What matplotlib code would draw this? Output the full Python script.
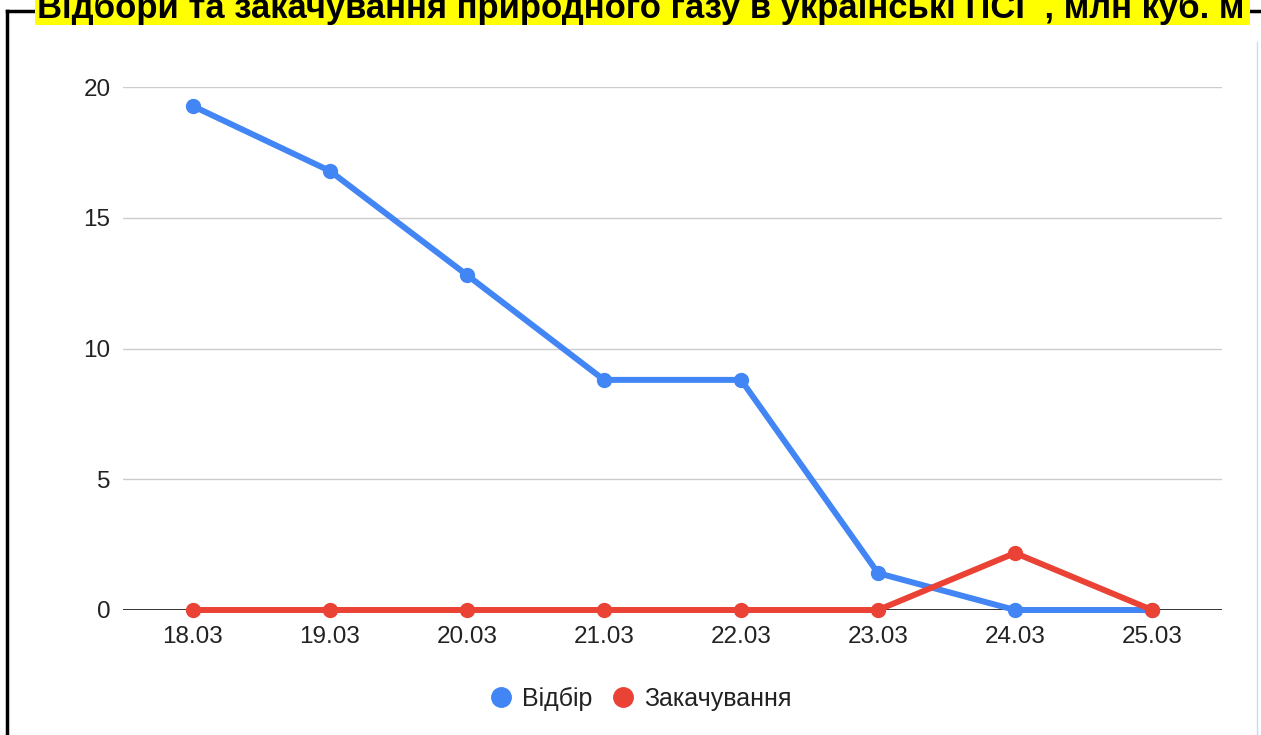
import matplotlib
matplotlib.use("Agg")
import matplotlib.pyplot as plt
from matplotlib.lines import Line2D
from matplotlib.patches import Rectangle

dates = ["18.03", "19.03", "20.03", "21.03", "22.03", "23.03", "24.03", "25.03"]
vidbir = [19.27, 16.79, 12.81, 8.80, 8.80, 1.41, 0.0, 0.0]
zakachuvannia = [0.0, 0.0, 0.0, 0.0, 0.0, 0.0, 2.18, 0.0]
yticks = [0, 5, 10, 15, 20]
title = "Відбори та закачування природного газу в українські ПСГ , млн куб. м"
series_names = ["Відбір", "Закачування"]

BLUE = "#4285F4"
RED = "#EA4335"
W, H = 1261, 735

plt.rcParams['font.family'] = ['Liberation Sans', 'DejaVu Sans']
fig = plt.figure(figsize=(W / 100, H / 100), dpi=100)
fig.patch.set_facecolor("white")

ax = fig.add_axes([123 / W, 1 - 610 / H, (1222 - 123) / W, (610 - 87) / H])
x = list(range(len(dates)))
ax.plot(x, vidbir, color=BLUE, lw=4.3, marker='o', ms=10, zorder=3, clip_on=False,
        solid_joinstyle='round', solid_capstyle='round')
ax.plot(x, zakachuvannia, color=RED, lw=4.3, marker='o', ms=10, zorder=4, clip_on=False,
        solid_joinstyle='round', solid_capstyle='round')

ax.set_xlim(-0.51, len(dates) - 1 + 0.51)
ax.set_ylim(0, 20)
ax.set_yticks(yticks)
ax.set_xticks(x)
ax.set_xticklabels(dates)
for s in ax.spines.values():
    s.set_visible(False)
ax.tick_params(axis='both', length=0, labelsize=17.5, labelcolor='#222222')
ax.tick_params(axis='y', pad=9)
ax.tick_params(axis='x', pad=11.5)
for yv in yticks[1:]:
    ax.axhline(yv, color='#cccccc', lw=1.0, zorder=0)
ax.axhline(0, color='#333333', lw=1.4, zorder=2)

# frame lines
fig.add_artist(Line2D([6.5 / W, 6.5 / W], [0, 1 - 11 / H], color='black', lw=2.5, zorder=1))
fig.add_artist(Line2D([6.5 / W, 1], [1 - 11 / H, 1 - 11 / H], color='black', lw=2.5, zorder=1))
fig.add_artist(Line2D([1256.5 / W, 1256.5 / W], [0, 1 - 42 / H], color='#c6dafc', lw=1.0, zorder=1))

# title with yellow highlight
fig.add_artist(Rectangle((35 / W, 1 - 25 / H), (1250 - 35) / W, 25 / H,
                         transform=fig.transFigure, facecolor='#ffff00', edgecolor='none',
                         zorder=2))
fig.text(37 / W, 1 - 18 / H, title, fontsize=24.9, fontweight='bold', color='black',
         ha='left', va='baseline', zorder=3)

handles = [Line2D([], [], color=BLUE, marker='o', ls='none', ms=14),
           Line2D([], [], color=RED, marker='o', ls='none', ms=14)]
leg = fig.legend(handles, series_names, loc='center', bbox_to_anchor=(640 / W, 1 - 699 / H),
                 ncol=2, frameon=False, fontsize=18, handletextpad=0.35, columnspacing=0.7,
                 handlelength=1.0)
for t in leg.get_texts():
    t.set_color('#222222')

fig.savefig("out.png", dpi=100, facecolor='white')
